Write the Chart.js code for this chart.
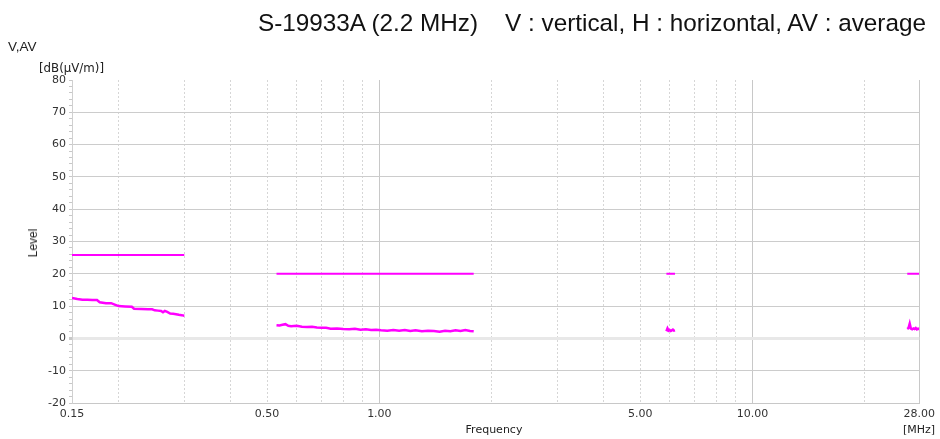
<!DOCTYPE html>
<html>
<head>
<meta charset="utf-8">
<script src="https://cdn.jsdelivr.net/npm/chart.js@4"></script>
<style>
  html, body { margin: 0; padding: 0; background: #fff; }
  #wrap { position: relative; width: 940px; height: 439px; overflow: hidden; }
  #chart { position: absolute; left: 0; top: 0; }
  .lbl { position: absolute; line-height: 1; white-space: pre; color: #222; }
  .sans { font-family: "Liberation Sans", Arial, sans-serif; }
  .dv { font-family: "DejaVu Sans", Verdana, sans-serif; }
</style>
</head>
<body>
<div id="wrap">
  <canvas id="chart" width="940" height="439"></canvas>
  <div class="lbl sans" id="title" style="right:14px; top:10.5px; font-size:24.3px; color:#111;">S-19933A (2.2 MHz)    V : vertical, H : horizontal, AV : average</div>
  <div class="lbl sans" style="left:8px; top:39.5px; font-size:13.5px;">V,AV</div>
  <div class="lbl dv" style="left:39px; top:63px; font-size:11.8px;">[dB(µV/m)]</div>
  <div class="lbl sans" style="left:33px; top:243px; font-size:12px; transform: translate(-50%,-50%) rotate(-90deg);">Level</div>
  <div class="lbl dv" style="left:494px; top:424px; font-size:11px; transform: translateX(-50%);">Frequency</div>
  <div class="lbl dv" style="left:919px; top:424px; font-size:11px; transform: translateX(-50%);">[MHz]</div>
</div>
<script>
// ---- data (MHz / dB(µV/m)) ----
const X_MIN = 0.15, X_MAX = 28;
const Y_MIN = -20, Y_MAX = 80;

// vertical grid positions and the ones that carry a label
const xGridValues = [0.15, 0.2, 0.3, 0.4, 0.5, 0.6, 0.7, 0.8, 0.9, 1, 2, 3, 4, 5, 6, 7, 8, 9, 10, 20, 28];
const xLabelValues = [0.15, 0.5, 1, 5, 10, 28];

// limit segments
const limit1Freq = [0.15, 0.30];
const limit1Level = [25.8, 25.8];
const limit2Freq = [0.53, 1.79];
const limit2Level = [20, 20];
const limit3Freq = [5.88, 6.20];
const limit3Level = [20, 20];
const limit4Freq = [26.0, 28.0];
const limit4Level = [20, 20];

// measured average level
const avg1Freq = [0.150, 0.155, 0.160, 0.165, 0.170, 0.175, 0.178, 0.185, 0.191, 0.196,
                  0.200, 0.208, 0.217, 0.220, 0.230, 0.240, 0.246, 0.250, 0.255, 0.260,
                  0.263, 0.266, 0.270, 0.275, 0.280, 0.285, 0.290, 0.295, 0.300];
const avg1Level = [12.5, 12.2, 12.0, 12.0, 11.9, 11.9, 11.2, 10.9, 10.9, 10.4,
                   10.0, 9.9, 9.8, 9.2, 9.1, 9.0, 9.0, 8.7, 8.6, 8.5,
                   8.1, 8.5, 8.2, 7.7, 7.6, 7.5, 7.3, 7.2, 7.0];

const avg2Freq = [0.53, 0.54, 0.55, 0.56, 0.57, 0.58, 0.60, 0.62, 0.64, 0.66,
                  0.68, 0.70, 0.72, 0.74, 0.77, 0.80, 0.83, 0.86, 0.89, 0.92,
                  0.95, 0.98, 1.01, 1.05, 1.09, 1.13, 1.17, 1.21, 1.25, 1.30,
                  1.35, 1.40, 1.45, 1.50, 1.55, 1.60, 1.65, 1.70, 1.75, 1.79];
const avg2Level = [4.1, 4.0, 4.2, 4.4, 3.9, 3.8, 3.9, 3.6, 3.5, 3.6,
                   3.4, 3.3, 3.3, 3.0, 3.1, 2.9, 2.8, 3.0, 2.7, 2.8,
                   2.6, 2.7, 2.5, 2.4, 2.6, 2.4, 2.6, 2.3, 2.5, 2.2,
                   2.4, 2.3, 2.1, 2.4, 2.2, 2.5, 2.3, 2.6, 2.3, 2.2];

const avg3Freq = [5.88, 5.92, 5.96, 6.00, 6.04, 6.08, 6.12, 6.16, 6.20];
const avg3Level = [2.2, 3.1, 2.4, 2.6, 2.3, 2.5, 2.7, 2.4, 2.5];

const avg4Freq = [26.0, 26.2, 26.4, 26.6, 26.8, 27.0, 27.2, 27.4, 27.6, 27.8, 28.0];
const avg4Level = [2.9, 3.2, 4.6, 3.0, 2.8, 3.1, 2.9, 3.2, 2.8, 3.0, 2.9];

const MAGENTA = '#ff00ff';

function pts(xs, ys) {
  return xs.map((x, i) => ({ x: x, y: ys[i] }));
}

function line(xs, ys, width) {
  return {
    data: pts(xs, ys),
    showLine: true,
    borderColor: MAGENTA,
    backgroundColor: MAGENTA,
    borderWidth: width,
    pointRadius: 0,
    tension: 0,
  };
}

const isMajorX = v => v === 1 || v === 10 || v === 28;

new Chart(document.getElementById('chart'), {
  type: 'scatter',
  data: {
    datasets: [
      line(limit1Freq, limit1Level, 2),
      line(limit2Freq, limit2Level, 2),
      line(limit3Freq, limit3Level, 2),
      line(limit4Freq, limit4Level, 2),
      line(avg1Freq, avg1Level, 2.5),
      line(avg2Freq, avg2Level, 2.5),
      line(avg3Freq, avg3Level, 2.5),
      line(avg4Freq, avg4Level, 2.5),
    ]
  },
  options: {
    responsive: false,
    animation: false,
    events: [],
    layout: { padding: { top: 80, right: 20, bottom: 0, left: 0 } },
    plugins: { legend: { display: false }, tooltip: { enabled: false }, title: { display: false } },
    scales: {
      x: {
        type: 'logarithmic',
        position: 'bottom',
        min: X_MIN,
        max: X_MAX,
        afterBuildTicks: scale => { scale.ticks = xGridValues.map(v => ({ value: v })); },
        afterFit: scale => { scale.height = 36; },
        ticks: {
          autoSkip: false,
          maxRotation: 0,
          padding: 5,
          color: '#333',
          font: { family: 'DejaVu Sans', size: 11 },
          callback: v => xLabelValues.includes(v) ? v.toFixed(2) : '',
        },
        grid: {
          drawTicks: false,
          lineWidth: 1,
          color: ctx => {
            const v = ctx.tick && ctx.tick.value;
            if (v === X_MIN) return 'rgba(0,0,0,0)';
            return isMajorX(v) ? '#c8c8c8' : '#d6d6d6';
          },
        },
        border: {
          display: true,
          color: '#c8c8c8',
          dash: ctx => {
            const v = ctx.tick && ctx.tick.value;
            return isMajorX(v) ? [] : [2, 2];
          },
        },
      },
      y: {
        min: Y_MIN,
        max: Y_MAX,
        afterFit: scale => { scale.width = 72; },
        ticks: {
          stepSize: 2,
          autoSkip: false,
          padding: 3,
          color: '#333',
          font: { family: 'DejaVu Sans', size: 11 },
          callback: v => v % 10 === 0 ? String(v) : '',
        },
        grid: {
          drawTicks: true,
          tickLength: 3,
          tickColor: '#c8c8c8',
          lineWidth: ctx => (ctx.tick && ctx.tick.value === 0) ? 3 : 1,
          color: ctx => {
            const v = ctx.tick && ctx.tick.value;
            if (v === 0) return '#e8e8e8';
            if (v === Y_MAX) return 'rgba(0,0,0,0)';
            return v % 10 === 0 ? '#cccccc' : 'rgba(0,0,0,0)';
          },
        },
        border: { display: true, color: '#d0d0d0' },
      },
    },
  },
});
</script>
</body>
</html>
